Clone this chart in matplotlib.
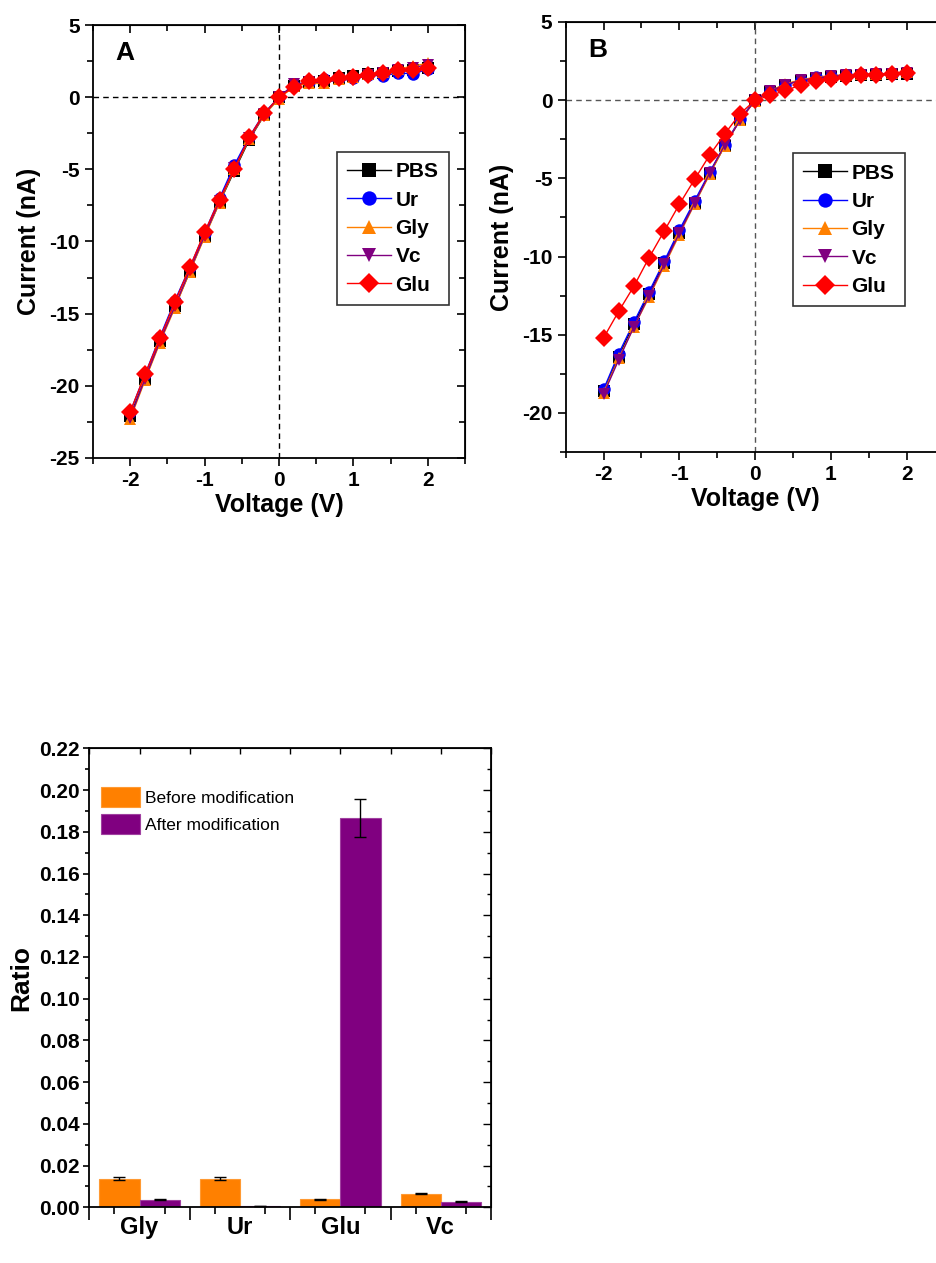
import numpy as np
import matplotlib
matplotlib.use("Agg")
import matplotlib.pyplot as plt
from matplotlib.ticker import MultipleLocator

plt.rcParams['font.family'] = ['Liberation Sans', 'DejaVu Sans']
plt.rcParams['axes.unicode_minus'] = False

# ---- I-V data ----
voltage = [-2.0, -1.8, -1.6, -1.4, -1.2, -1.0, -0.8, -0.6, -0.4, -0.2, 0.0,
           0.2, 0.4, 0.6, 0.8, 1.0, 1.2, 1.4, 1.6, 1.8, 2.0]
series_names = ["PBS", "Ur", "Gly", "Vc", "Glu"]

# panel A (before modification)
a_pbs = [-22.1, -19.5, -16.9, -14.5, -12.1, -9.6, -7.3, -5.1, -2.95, -1.25, 0.0,
         0.75, 1.05, 1.15, 1.3, 1.5, 1.6, 1.7, 1.8, 1.85, 2.0]
a_ur = [-21.8, -19.2, -16.6, -14.1, -11.8, -9.4, -7.0, -4.7, -2.75, -1.1, 0.0,
        0.8, 1.05, 1.25, 1.3, 1.3, 1.55, 1.45, 1.7, 1.6, 1.95]
a_gly = [-22.3, -19.6, -17.0, -14.6, -12.1, -9.7, -7.3, -5.0, -2.9, -1.25, -0.1,
         0.75, 0.95, 0.95, 1.25, 1.4, 1.6, 1.75, 1.95, 2.15, 2.35]
a_vc = [-22.2, -19.5, -16.9, -14.5, -12.0, -9.6, -7.2, -4.9, -2.85, -1.2, 0.0,
        0.9, 1.05, 1.0, 1.2, 1.2, 1.55, 1.7, 1.85, 2.05, 2.25]
a_glu = [-21.8, -19.2, -16.7, -14.2, -11.8, -9.35, -7.1, -4.97, -2.77, -1.13, 0.0,
         0.72, 1.1, 1.22, 1.36, 1.41, 1.52, 1.64, 1.85, 1.89, 2.0]

# panel B (after modification)
b_pbs = [-18.6, -16.4, -14.3, -12.4, -10.4, -8.5, -6.55, -4.7, -2.9, -1.25, 0.0,
         0.55, 1.0, 1.25, 1.4, 1.5, 1.55, 1.6, 1.62, 1.65, 1.7]
b_ur = [-18.5, -16.2, -14.2, -12.25, -10.3, -8.3, -6.45, -4.6, -2.85, -1.2, 0.0,
        0.6, 1.0, 1.28, 1.45, 1.55, 1.6, 1.65, 1.66, 1.7, 1.75]
b_gly = [-18.7, -16.5, -14.5, -12.6, -10.6, -8.6, -6.65, -4.75, -2.9, -1.25, -0.05,
         0.6, 1.05, 1.3, 1.47, 1.57, 1.62, 1.66, 1.68, 1.72, 1.8]
b_vc = [-18.8, -16.6, -14.5, -12.5, -10.5, -8.5, -6.6, -4.65, -2.85, -1.3, 0.0,
        0.57, 1.0, 1.26, 1.43, 1.53, 1.6, 1.64, 1.66, 1.7, 1.75]
b_glu = [-15.2, -13.5, -11.9, -10.07, -8.37, -6.66, -5.07, -3.51, -2.15, -0.87, 0.0,
         0.3, 0.62, 0.96, 1.21, 1.34, 1.47, 1.6, 1.6, 1.68, 1.72]

# ---- ratio bar data ----
analytes = ["Gly", "Ur", "Glu", "Vc"]
ratio_before = [0.0137, 0.0138, 0.0038, 0.0065]
ratio_before_err = [0.0006, 0.0006, 0.0003, 0.0002]
ratio_after = [0.0037, 0.0004, 0.1866, 0.0027]
ratio_after_err = [0.0002, 0.0, 0.0092, 0.0002]

colors = ["black", "#0000FF", "#FF8000", "#800080", "#FF0000"]
markers = ["s", "o", "^", "v", "D"]

fig = plt.figure(figsize=(9.37, 12.63), dpi=100)


def iv_panel(ax, data, letter, ylim, leg_anchor, zero_color):
    for y, name, c, m in zip(data, series_names, colors, markers):
        ax.plot(voltage, y, color=c, marker=m, markersize=9, lw=1,
                markeredgewidth=0, label=name, clip_on=False, zorder=3)
    ax.axhline(0, color=zero_color, ls=(0, (4, 3)), lw=1, zorder=1)
    ax.axvline(0, color=zero_color, ls=(0, (4, 3)), lw=1, zorder=1)
    ax.set_xlim(-2.5, 2.5)
    ax.set_ylim(*ylim)
    ax.xaxis.set_major_locator(MultipleLocator(1))
    ax.xaxis.set_minor_locator(MultipleLocator(0.5))
    ax.yaxis.set_major_locator(MultipleLocator(5))
    ax.yaxis.set_minor_locator(MultipleLocator(2.5))
    ax.tick_params(which='both', direction='out', width=1.2)
    ax.tick_params(which='major', length=6, labelsize=15)
    ax.tick_params(which='minor', length=4)
    for lab in ax.get_xticklabels() + ax.get_yticklabels():
        lab.set_fontweight('bold')
    for s in ax.spines.values():
        s.set_linewidth(1.3)
    top = ax.secondary_xaxis('top')
    top.xaxis.set_major_locator(MultipleLocator(1))
    top.xaxis.set_minor_locator(MultipleLocator(0.5))
    top.tick_params(which='both', direction='in', labeltop=False, width=1.2)
    top.tick_params(which='major', length=6)
    top.tick_params(which='minor', length=4)
    right = ax.secondary_yaxis('right')
    right.yaxis.set_major_locator(MultipleLocator(5))
    right.yaxis.set_minor_locator(MultipleLocator(2.5))
    right.tick_params(which='both', direction='in', labelright=False, width=1.2)
    right.tick_params(which='major', length=6)
    right.tick_params(which='minor', length=4)
    ax.set_xlabel("Voltage (V)", fontsize=18, fontweight='bold', labelpad=2)
    ax.set_ylabel("Current (nA)", fontsize=18, fontweight='bold', labelpad=6)
    ax.text(0.06, 0.935, letter, transform=ax.transAxes, fontsize=19,
            fontweight='bold', va='center')
    leg = ax.legend(loc='upper left', bbox_to_anchor=leg_anchor, borderaxespad=0,
                    fancybox=False, framealpha=1, edgecolor='#333333',
                    prop={'size': 15, 'weight': 'bold'}, handlelength=2.1,
                    labelspacing=0.45, handletextpad=0.2, borderpad=0.5,
                    markerscale=1.15)
    leg.get_frame().set_linewidth(1.2)


axA = fig.add_axes([0.0993, 0.6374, 0.397, 0.3428])
iv_panel(axA, [a_pbs, a_ur, a_gly, a_vc, a_glu], "A", (-25, 5),
         (0.656, 0.707), 'black')

axB = fig.add_axes([0.6037, 0.6421, 0.4045, 0.3405])
iv_panel(axB, [b_pbs, b_ur, b_gly, b_vc, b_glu], "B", (-22.5, 5),
         (0.60, 0.695), '#555555')

# ---- bar chart ----
axC = fig.add_axes([0.0953, 0.0441, 0.4287, 0.3634])
x = np.arange(1, len(analytes) + 1)
w = 0.4
axC.bar(x - w / 2, ratio_before, w, color='#FF8000', edgecolor='#FF9A33',
        lw=0.8, label='Before modification', zorder=2)
axC.bar(x + w / 2, ratio_after, w, color='#800080', edgecolor='#A040A0',
        lw=0.8, label='After modification', zorder=2)
axC.errorbar(x - w / 2, ratio_before, yerr=ratio_before_err, fmt='none',
             ecolor='black', elinewidth=1, capsize=4, capthick=1, zorder=3)
axC.errorbar(x + w / 2, ratio_after, yerr=ratio_after_err, fmt='none',
             ecolor='black', elinewidth=1, capsize=4, capthick=1, zorder=3)
axC.set_xlim(0.5, 4.5)
axC.set_ylim(0, 0.22)
axC.set_xticks(np.arange(0.5, 4.6, 1.0))
axC.set_xticks(np.arange(0.75, 4.5, 0.5), minor=True)
axC.set_xticklabels([])
for xi, name in zip(x, analytes):
    axC.text(xi, -0.0042, name, ha='center', va='top', fontsize=17,
             fontweight='bold', transform=axC.transData)
axC.yaxis.set_major_locator(MultipleLocator(0.02))
axC.yaxis.set_minor_locator(MultipleLocator(0.01))
axC.yaxis.set_major_formatter(plt.FormatStrFormatter('%.2f'))
axC.tick_params(which='both', direction='out', width=1.2)
axC.tick_params(axis='x', which='major', length=9)
axC.tick_params(axis='x', which='minor', length=5)
axC.tick_params(axis='y', which='major', length=4, pad=3, labelsize=15)
axC.tick_params(axis='y', which='minor', length=3)
for lab in axC.get_yticklabels():
    lab.set_fontweight('bold')
for s in axC.spines.values():
    s.set_linewidth(1.3)
topC = axC.secondary_xaxis('top')
topC.set_xticks(np.arange(0.5, 4.6, 0.5))
topC.tick_params(direction='in', labeltop=False, length=4, width=1.0)
rightC = axC.secondary_yaxis('right')
rightC.yaxis.set_major_locator(MultipleLocator(0.02))
rightC.yaxis.set_minor_locator(MultipleLocator(0.01))
rightC.tick_params(which='both', direction='in', labelright=False, width=1.0)
rightC.tick_params(which='major', length=6)
rightC.tick_params(which='minor', length=3)
axC.set_ylabel("Ratio", fontsize=19, fontweight='bold', labelpad=4)
axC.legend(loc='upper left', bbox_to_anchor=(0.029, 0.915), frameon=False,
           prop={'size': 12.5}, handlelength=2.25, handleheight=1.4,
           labelspacing=0.4, handletextpad=0.3, borderpad=0, borderaxespad=0)

fig.savefig("out.png", dpi=100)
